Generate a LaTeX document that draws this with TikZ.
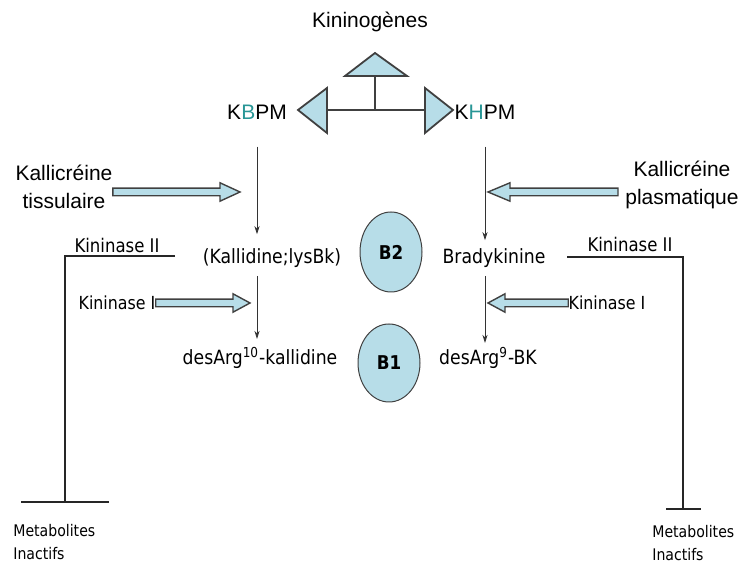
\documentclass[tikz,border=0pt]{standalone}
\usepackage{fontspec}
\setmainfont{Liberation Sans}
\newfontfamily\tahoma[FakeStretch=0.88]{DejaVu Sans}
\usepackage{xcolor}
\usepackage{tikz}
\usetikzlibrary{shapes.geometric, arrows.meta, positioning, calc}

\definecolor{kblue}{RGB}{183,221,232}
\definecolor{kteal}{RGB}{40,150,150}
\definecolor{kgray}{RGB}{64,64,64}

% block arrow: tail, tip, head length
\newcommand{\fatarrow}[3]{%
    \path ($(#2)!#3!(#1)$) coordinate (fa-h);
    \draw[fat] ($(#1)!1.9pt!90:(#2)$) -- ($(fa-h)!1.9pt!90:(#2)$) -- ($(fa-h)!4.6pt!90:(#2)$) -- (#2)
        -- ($(fa-h)!4.6pt!-90:(#2)$) -- ($(fa-h)!1.9pt!-90:(#2)$) -- ($(#1)!1.9pt!-90:(#2)$) -- cycle;}

\begin{document}
\begin{tikzpicture}[x=0.5pt, y=-0.5pt,
    lbl/.style={inner sep=0pt, align=center, font=\fontsize{10.5}{14}\selectfont},
    tlbl/.style={inner sep=0pt, align=center, font=\tahoma\fontsize{9.8}{12}\selectfont},
    small/.style={inner sep=0pt, align=left, font=\tahoma\fontsize{8}{11.5}\selectfont},
    thinarrow/.style={-{Stealth[length=4pt, width=2.6pt]}, line width=0.4pt, black!80},
    inh/.style={line width=0.9pt, black!85},
    tri/.style={draw=kgray, fill=kblue, line width=0.9pt},
    fat/.style={draw=kgray, fill=kblue, line width=0.7pt},
    rec/.style={ellipse, draw=kgray, fill=kblue, line width=0.5pt, minimum width=31pt, minimum height=40pt, inner sep=0pt, font=\tahoma\bfseries\fontsize{9.5}{11}\selectfont},
]
    \useasboundingbox (0,0) rectangle (741,565);

    % Kininogenes and the split
    \node[lbl] (kin) at (370,22) {Kininogènes};
    \node[lbl] (kbpm) at (257,112) {K\textcolor{kteal}{B}PM};
    \node[lbl] (khpm) at (485,112) {K\textcolor{kteal}{H}PM};
    \coordinate (split) at (375,110);
    \draw[kgray, line width=1.4pt] (375,76) -- (split);
    \draw[kgray, line width=1.4pt] (327,110) -- (425,110);
    \draw[tri] (375,53) -- (407,76) -- (345,76) -- cycle;
    \draw[tri] (298,110) -- (327,88) -- (327,133) -- cycle;
    \draw[tri] (453,110) -- (425,88) -- (425,133) -- cycle;

    % Kallicreines
    \node[lbl] (kallt) at (64,187) {Kallicréine\\tissulaire};
    \node[lbl] (kallp) at (682,185) {Kallicréine\\plasmatique};
    \coordinate (kt-tip) at (240,192);
    \coordinate (kp-tail) at (618,192);
    \coordinate (kp-tip) at (488,192);
    \fatarrow{kallt.east |- kt-tip}{kt-tip}{10pt}
    \fatarrow{kp-tail}{kp-tip}{11pt}

    % Kinines
    \node[tlbl] (kall) at (272,258) {(Kallidine;lysBk)};
    \node[tlbl] (brady) at (494,258) {Bradykinine};
    \node[tlbl] (des10) at (260,358) {desArg\textsuperscript{10}-kallidine};
    \node[tlbl] (des9) at (488,358) {desArg\textsuperscript{9}-BK};
    \draw[thinarrow, shorten <=13.5pt, shorten >=7pt] (kbpm.south) -- (kbpm.south |- kall.north);
    \draw[thinarrow, shorten <=13.5pt, shorten >=4pt] (khpm.south) -- (khpm.south |- brady.north);
    \draw[thinarrow, shorten <=4pt, shorten >=4pt] (kbpm |- kall.south) -- (kbpm |- des10.north);
    \draw[thinarrow, shorten <=4pt, shorten >=2pt] (khpm |- brady.south) -- (khpm |- des9.north);

    % Recepteurs
    \node[rec] (b2) at (391,252) {B2};
    \node[rec, minimum height=39pt] (b1) at (389,363) {B1};

    % Kininase I
    \node[tlbl, font=\tahoma\fontsize{9}{11}\selectfont] (k1l) at (117,303) {Kininase I};
    \node[tlbl, font=\tahoma\fontsize{9}{11}\selectfont] (k1r) at (607,303) {Kininase I};
    \coordinate (k1l-tip) at (250,303);
    \coordinate (k1r-tip) at (488,303);
    \fatarrow{k1l.east}{k1l-tip}{8.5pt}
    \fatarrow{k1r.west}{k1r-tip}{8.5pt}

    % Kininase II
    \node[tlbl, font=\tahoma\fontsize{9.4}{11}\selectfont] (k2l) at (117,246) {Kininase II};
    \node[tlbl, font=\tahoma\fontsize{9.4}{11}\selectfont] (k2r) at (630,245) {Kininase II};
    \node[small, anchor=west] (metl) at (13,542) {Metabolites\\Inactifs};
    \node[small, anchor=west] (metr) at (652,543) {Metabolites\\Inactifs};
    \draw[inh, -{Bar[width=44pt]}] (175,256) -- (65,256) -- (65,503);
    \draw[inh, -{Bar[width=17.5pt]}] (567,257) -- (683,257) -- (683,510);
\end{tikzpicture}
\end{document}
